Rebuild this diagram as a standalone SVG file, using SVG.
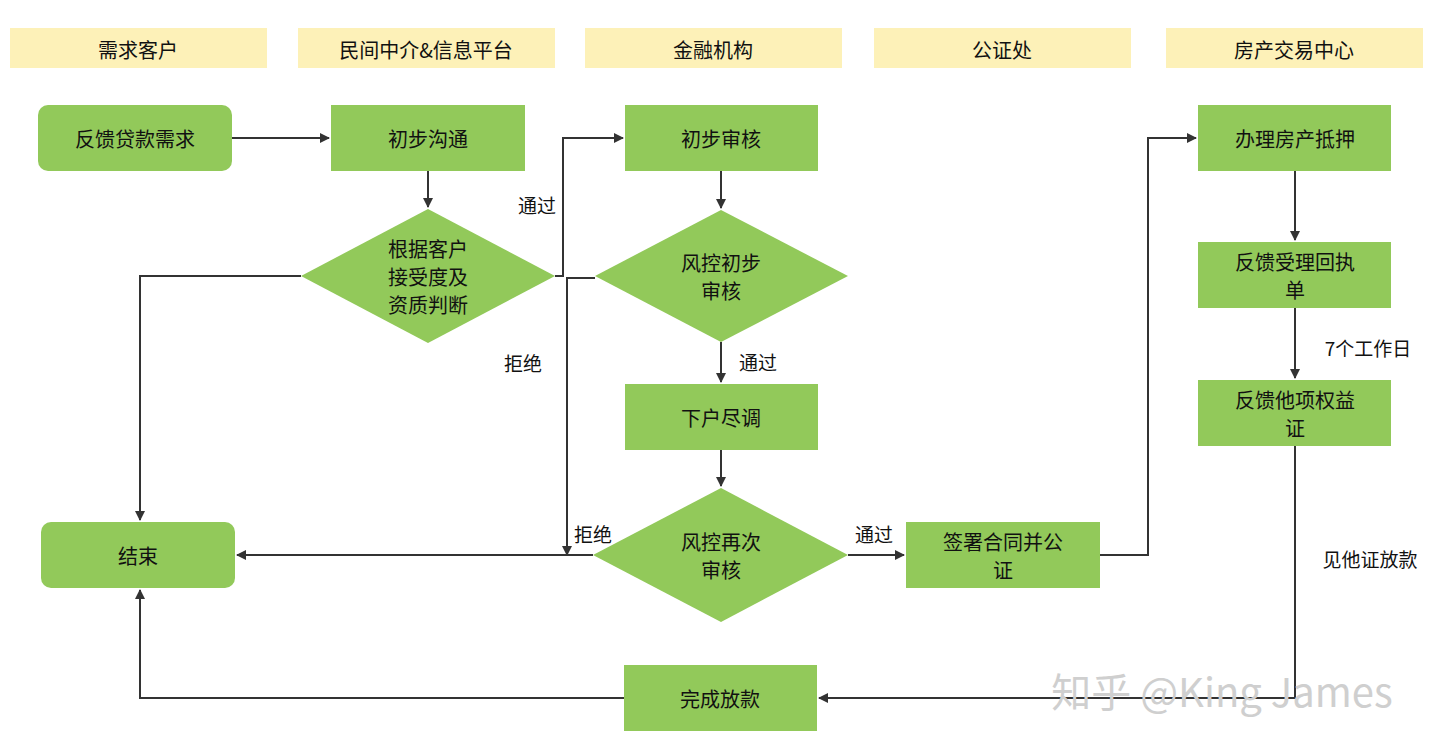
<svg xmlns="http://www.w3.org/2000/svg" width="1440" height="754" viewBox="0 0 1440 754">
<defs>
<marker id="a" viewBox="0 0 10 10" refX="9" refY="5" markerWidth="10" markerHeight="10" markerUnits="userSpaceOnUse" orient="auto"><path d="M0,0 L10,5 L0,10 z" fill="#333"/></marker>
<style>
.h{fill:#fdf1b8}
.n{fill:#92c95a}
text{font-family:"Noto Sans CJK SC","Liberation Serif",serif;font-size:20px;fill:#111;text-anchor:middle;dominant-baseline:central}
.l{font-size:19px}
.c path{fill:none;stroke:#333;stroke-width:2;marker-end:url(#a)}
.w{fill:#cfcfcf;font-size:40px;font-family:"Noto Sans CJK SC","Liberation Sans",sans-serif}
</style>
</defs>
<rect width="1440" height="754" fill="#fff"/>
<g id="headers">
<rect class="h" x="10" y="28" width="257" height="40"/><text x="138" y="49">需求客户</text>
<rect class="h" x="298" y="28" width="257" height="40"/><text x="426" y="49">民间中介&amp;信息平台</text>
<rect class="h" x="585" y="28" width="257" height="40"/><text x="713" y="49">金融机构</text>
<rect class="h" x="874" y="28" width="257" height="40"/><text x="1002" y="49">公证处</text>
<rect class="h" x="1166" y="28" width="257" height="40"/><text x="1294" y="49">房产交易中心</text>
</g>
<g class="c" id="connectors">
<path d="M232,138 H329"/>
<path d="M428,171 V207"/>
<path d="M555,276 H563 V138 H623"/>
<path d="M301,276 H140 V520"/>
<path d="M721,171 V208"/>
<path d="M595,278 H567 V555"/>
<path d="M721,342 V382"/>
<path d="M721,450 V486"/>
<path d="M593,555 H237"/>
<path d="M848,555 H904"/>
<path d="M1100,555 H1148 V138 H1196"/>
<path d="M1295,171 V240"/>
<path d="M1295,308 V378"/>
<path d="M1295,446 V698 H819"/>
<path d="M624,698 H140 V590"/>
</g>
<g id="labels">
<text class="l" x="537" y="204">通过</text>
<text class="l" x="523" y="362">拒绝</text>
<text class="l" x="758" y="361">通过</text>
<text class="l" x="593" y="533">拒绝</text>
<text class="l" x="874" y="533">通过</text>
<text class="l" x="1368" y="347">7个工作日</text>
<text class="l" x="1370" y="558">见他证放款</text>
</g>
<g id="n1"><rect class="n" x="38" y="105" width="194" height="66" rx="10"/><text x="135" y="138">反馈贷款需求</text></g>
<g id="n2"><rect class="n" x="331" y="105" width="194" height="66"/><text x="428" y="138">初步沟通</text></g>
<g id="n3"><rect class="n" x="625" y="105" width="193" height="66"/><text x="721" y="138">初步审核</text></g>
<g id="n4"><rect class="n" x="1198" y="105" width="193" height="66"/><text x="1295" y="138">办理房产抵押</text></g>
<g id="n5"><rect class="n" x="1198" y="242" width="193" height="66"/><text x="1295" y="261">反馈受理回执</text><text x="1295" y="289">单</text></g>
<g id="n6"><rect class="n" x="1198" y="380" width="193" height="66"/><text x="1295" y="399">反馈他项权益</text><text x="1295" y="427">证</text></g>
<g id="d1"><polygon class="n" points="428,209 555,276 428,343 301,276"/><text x="428" y="248">根据客户</text><text x="428" y="276">接受度及</text><text x="428" y="304">资质判断</text></g>
<g id="d2"><polygon class="n" points="721,210 848,276 721,342 595,276"/><text x="721" y="262">风控初步</text><text x="721" y="290">审核</text></g>
<g id="n7"><rect class="n" x="625" y="384" width="193" height="66"/><text x="721" y="417">下户尽调</text></g>
<g id="d3"><polygon class="n" points="721,488 848,555 721,622 593,555"/><text x="721" y="541">风控再次</text><text x="721" y="569">审核</text></g>
<g id="n8"><rect class="n" x="41" y="522" width="194" height="66" rx="10"/><text x="138" y="555">结束</text></g>
<g id="n9"><rect class="n" x="906" y="522" width="194" height="66"/><text x="1003" y="541">签署合同并公</text><text x="1003" y="569">证</text></g>
<g id="n10"><rect class="n" x="624" y="665" width="193" height="66"/><text x="720" y="698">完成放款</text></g>
<text class="w" x="1222" y="690">知乎 @King James</text>
</svg>
